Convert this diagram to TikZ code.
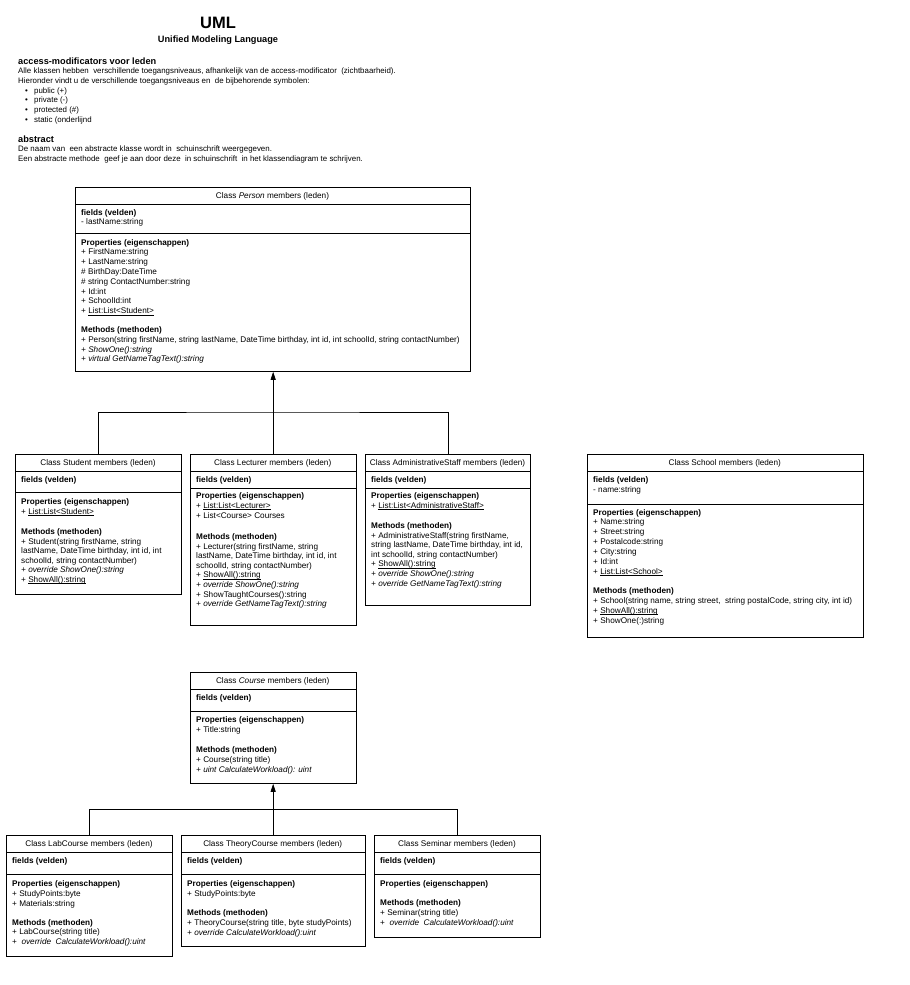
\documentclass[tikz,border=0pt]{standalone}
\usepackage{fontspec}
\setmainfont{Liberation Sans}
\usetikzlibrary{arrows.meta}
\newcommand{\uln}[1]{\setbox0\hbox{#1}\rlap{\rule[-1.4pt]{\wd0}{0.5pt}}\box0}
\tikzset{
  umlbox/.style={draw, line width=0.8pt, inner sep=0pt, anchor=north west},
  sepline/.style={line width=0.8pt},
  txt/.style={inner sep=0pt, anchor=base west, font=\fontsize{8.2}{9.8}\selectfont},
  ttl/.style={inner sep=0pt, anchor=base, font=\fontsize{8.2}{9.8}\selectfont},
  inh/.style={line width=0.8pt},
  inharrow/.style={line width=0.8pt, -{Triangle[width=5pt,length=8pt]}},
  bigtitle/.style={inner sep=0pt, anchor=base, font=\fontsize{16.5}{18}\selectfont\bfseries},
  subtitle/.style={inner sep=0pt, anchor=base, font=\fontsize{9.2}{11}\selectfont\bfseries},
  heading/.style={inner sep=0pt, anchor=base west, font=\fontsize{9.2}{11}\selectfont\bfseries},
  body/.style={inner sep=0pt, anchor=base west, font=\fontsize{7.9}{9.6}\selectfont},
}
\newcommand{\umlclass}[6]{%
  \node[umlbox, minimum width=#4pt, minimum height=#5pt] (#1) at (#2,#3) {};
  \node[ttl] (#1-title) at ({#2+#4/2},{#3+11.5}) {#6};
}
\newcommand{\umlsep}[2]{\draw[sepline] (#1.west |- 0,#2) -- (#1.east |- 0,#2);}
\newcommand{\umllines}[5]{%
  \foreach \ln [count=\i] in {#5} {\node[txt] (#1-\i) at (#2,{#3+(\i-1)*#4}) {\ln};}%
}
\begin{document}
\begin{tikzpicture}[x=1pt,y=-1pt]
\useasboundingbox (0,0) rectangle (910,985);
\fill[white] (0,0) rectangle (910,985);

% ---------- header text ----------
\node[bigtitle] (uml) at (218,28.5) {UML};
\node[subtitle] (uml-sub) at (218,42.5) {Unified Modeling Language};
\node[heading] (h1) at (18,64) {access-modificators voor leden};
\node[body] (b1) at (18,73.7) {Alle klassen hebben~ verschillende toegangsniveaus, afhankelijk van de access-modificator~ (zichtbaarheid).};
\node[body] (b2) at (18,83) {Hieronder vindt u de verschillende toegangsniveaus en~ de bijbehorende symbolen:};
\node[body] (bu1) at (25,93) {\textbullet};
\node[body] (bt1) at (34,93) {public (+)};
\node[body] (bu2) at (25,102.8) {\textbullet};
\node[body] (bt2) at (34,102.8) {private (-)};
\node[body] (bu3) at (25,112.6) {\textbullet};
\node[body] (bt3) at (34,112.6) {protected (\#)};
\node[body] (bu4) at (25,122.2) {\textbullet};
\node[body] (bt4) at (34,122.2) {static (onderlijnd};
\node[heading] (h2) at (18,142) {abstract};
\node[body] (b3) at (18,151.5) {De naam van~ een abstracte klasse wordt in~ schuinschrift weergegeven.};
\node[body] (b4) at (18,161) {Een abstracte methode~ geef je aan door deze~ in schuinschrift~ in het klassendiagram te schrijven.};

% ---------- Person ----------
\umlclass{person}{75}{187}{395}{184}{Class \textit{Person} members (leden)}
\umlsep{person}{204.5}
\umlsep{person}{233}
\umllines{pf}{81}{215}{9.8}{{\textbf{fields (velden)}},{- lastName:string}}
\umllines{pp}{81}{245}{9.8}{{\textbf{Properties (eigenschappen)}},{+ FirstName:string},{+ LastName:string},{\# BirthDay:DateTime},{\# string ContactNumber:string},{+ Id:int},{+ SchoolId:int},{+ \uln{List:List<Student>}}}
\umllines{pm}{81}{332.5}{9.8}{{\textbf{Methods (methoden)}},{+ Person(string firstName, string lastName, DateTime birthday, int id, int schoolId, string contactNumber)},{\textit{+ ShowOne():string}},{\textit{+ virtual GetNameTagText():string}}}

% ---------- Student ----------
\umlclass{stud}{15}{454}{166}{140}{Class Student members (leden)}
\umlsep{stud}{471.5}
\umlsep{stud}{492.5}
\umllines{sf}{21}{482.5}{9.8}{{\textbf{fields (velden)}}}
\umllines{sp}{21}{504.5}{9.8}{{\textbf{Properties (eigenschappen)}},{+ \uln{List:List<Student>}}}
\umllines{sm}{21}{534.5}{9.5}{{\textbf{Methods (methoden)}},{+ Student(string firstName, string},{lastName, DateTime birthday, int id, int},{schoolId, string contactNumber)},{\textit{+ override ShowOne():string}},{+ \uln{ShowAll():string}}}

% ---------- Lecturer ----------
\umlclass{lect}{190}{454}{165.5}{171}{Class Lecturer members (leden)}
\umlsep{lect}{471.5}
\umlsep{lect}{488.5}
\umllines{lf}{196}{482.5}{9.8}{{\textbf{fields (velden)}}}
\umllines{lp}{196}{498.5}{9.8}{{\textbf{Properties (eigenschappen)}},{+ \uln{List:List<Lecturer>}},{+ List<Course> Courses}}
\umllines{lm}{196}{539.5}{9.6}{{\textbf{Methods (methoden)}},{+ Lecturer(string firstName, string},{lastName, DateTime birthday, int id, int},{schoolId, string contactNumber)},{+ \uln{ShowAll():string}},{\textit{+ override ShowOne():string}},{+ ShowTaughtCourses():string},{\textit{+ override GetNameTagText():string}}}

% ---------- AdministrativeStaff ----------
\umlclass{adm}{365}{454}{165}{151}{Class AdministrativeStaff members (leden)}
\umlsep{adm}{471.5}
\umlsep{adm}{488.5}
\umllines{af}{371}{482.5}{9.8}{{\textbf{fields (velden)}}}
\umllines{ap}{371}{498.5}{9.8}{{\textbf{Properties (eigenschappen)}},{+ \uln{List:List<AdministrativeStaff>}}}
\umllines{am}{371}{528.5}{9.6}{{\textbf{Methods (methoden)}},{+ AdministrativeStaff(string firstName,},{string lastName, DateTime birthday, int id,},{int schoolId, string contactNumber)},{+ \uln{ShowAll():string}},{\textit{+ override ShowOne():string}},{\textit{+ override GetNameTagText():string}}}

% ---------- School ----------
\umlclass{school}{587}{454}{275.5}{183}{Class School members (leden)}
\umlsep{school}{471.5}
\umlsep{school}{504}
\umllines{scf}{593}{482.5}{9.8}{{\textbf{fields (velden)}},{- name:string}}
\umllines{scp}{593}{515}{9.9}{{\textbf{Properties (eigenschappen)}},{+ Name:string},{+ Street:string},{+ Postalcode:string},{+ City:string},{+ Id:int},{+ \uln{List:List<School>}}}
\umllines{scm}{593}{593.5}{9.9}{{\textbf{Methods (methoden)}},{+ School(string name, string street,~ string postalCode, string city, int id)},{+ \uln{ShowAll():string}},{+ ShowOne(:)string}}

% ---------- Course ----------
\umlclass{course}{190}{672}{165.5}{111}{Class \textit{Course} members (leden)}
\umlsep{course}{689}
\umlsep{course}{711}
\umllines{cf}{196}{700.5}{9.8}{{\textbf{fields (velden)}}}
\umllines{cp}{196}{722.5}{9.8}{{\textbf{Properties (eigenschappen)}},{+ Title:string}}
\umllines{cm}{196}{752.5}{9.8}{{\textbf{Methods (methoden)}},{+ Course(string title)},{\textit{+ uint CalculateWorkload(): uint}}}

% ---------- LabCourse ----------
\umlclass{lab}{6}{835}{166}{121}{Class LabCourse members (leden)}
\umlsep{lab}{852}
\umlsep{lab}{874}
\umllines{lbf}{12}{863.5}{9.8}{{\textbf{fields (velden)}}}
\umllines{lbp}{12}{886.5}{9.8}{{\textbf{Properties (eigenschappen)}},{+ StudyPoints:byte},{+ Materials:string}}
\umllines{lbm}{12}{925}{9.8}{{\textbf{Methods (methoden)}},{+ LabCourse(string title)},{+~ \textit{override~ CalculateWorkload():uint}}}

% ---------- TheoryCourse ----------
\umlclass{theory}{181}{835}{183.5}{111}{Class TheoryCourse members (leden)}
\umlsep{theory}{852}
\umlsep{theory}{874}
\umllines{tf}{187}{863.5}{9.8}{{\textbf{fields (velden)}}}
\umllines{tp}{187}{886.5}{9.8}{{\textbf{Properties (eigenschappen)}},{+ StudyPoints:byte}}
\umllines{tm}{187}{915.5}{9.8}{{\textbf{Methods (methoden)}},{+ TheoryCourse(string title, byte studyPoints)},{\textit{+ override CalculateWorkload():uint}}}

% ---------- Seminar ----------
\umlclass{sem}{374}{835}{166}{102}{Class Seminar members (leden)}
\umlsep{sem}{852}
\umlsep{sem}{874}
\umllines{smf}{380}{863.5}{9.8}{{\textbf{fields (velden)}}}
\umllines{smp}{380}{886.5}{9.8}{{\textbf{Properties (eigenschappen)}}}
\umllines{smm}{380}{905.5}{9.8}{{\textbf{Methods (methoden)}},{+ Seminar(string title)},{+~ \textit{override~ CalculateWorkload():uint}}}

% ---------- inheritance connectors ----------
\coordinate (j1) at (272.5,412);
\draw[inh] (stud.north) |- (j1) -| (adm.north);
\draw[inharrow] (lect.north) -- (lect.north |- person.south);

\coordinate (j2) at (272.5,809);
\draw[inh] (lab.north) |- (j2) -| (sem.north);
\draw[inharrow] (theory.north) -- (theory.north |- course.south);
\end{tikzpicture}
\end{document}
